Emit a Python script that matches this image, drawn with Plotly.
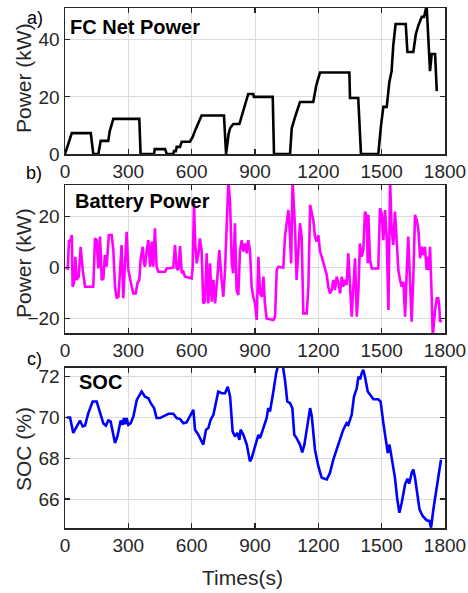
import plotly.graph_objects as go

# ---------------- data ----------------
fc_t = [0, 32, 122, 134, 158, 169, 205, 212, 229, 352, 358, 422, 425, 474, 482, 513, 516, 525, 529, 545,
        553, 592, 605, 615, 647, 753, 763, 775, 782, 797, 826, 840, 855, 868, 892, 895, 984, 990, 1066,
        1074, 1090, 1100, 1113, 1176, 1190, 1208, 1347, 1350, 1389, 1402, 1484, 1497, 1508, 1524, 1536,
        1547, 1555, 1566, 1614, 1622, 1650, 1662, 1674, 1690, 1701, 1713, 1729, 1737, 1753, 1761]
fc_kw = [0, 7.3, 7.3, 0, 0, 4.6, 4.6, 8, 12.3, 12.3, 0, 0, 1.7, 1.7, 0, 0, 1, 1, 2.5, 2.5,
         4.3, 4.3, 6, 8, 13.5, 13.5, 0, 7, 9, 10.5, 10.5, 14, 17, 21, 21, 20, 20, 0, 0,
         9, 13, 15, 18.2, 18.2, 24, 28.5, 28.5, 19.6, 19.6, 0, 0, 10, 16.5, 16.5, 25,
         29, 38, 45.5, 45.5, 35.7, 35.7, 42, 45, 48, 48, 52, 29, 35, 35, 22]

bat_t = [3, 13, 19, 25, 32, 36, 43, 49, 55, 65, 74, 84, 95, 134, 142, 150, 158, 166, 174, 182,
         189, 197, 208, 221, 229, 237, 245, 253, 261, 268, 276, 284, 292, 300, 308, 316, 324, 335,
         343, 352, 358, 368, 374, 379, 387, 395, 403, 411, 418, 426, 434, 442, 474, 482, 513, 521,
         529, 537, 545, 553, 561, 568, 600, 605, 611, 617, 624, 632, 639, 647, 655, 663, 671, 679,
         687, 695, 703, 711, 722, 731, 742, 750, 758, 766, 774, 782, 790, 797, 805, 813, 821, 829,
         837, 845, 853, 861, 868, 876, 884, 892, 900, 908, 916, 924, 932, 940, 947, 955, 987, 995,
         1003, 1011, 1034, 1042, 1050, 1058, 1066, 1071, 1078, 1090, 1097, 1105, 1113, 1121, 1129,
         1145, 1153, 1161, 1168, 1176, 1184, 1192, 1200, 1208, 1216, 1224, 1232, 1240, 1247, 1255,
         1263, 1271, 1279, 1287, 1295, 1303, 1311, 1318, 1326, 1334, 1342, 1350, 1358, 1366, 1374,
         1382, 1390, 1397, 1405, 1413, 1421, 1429, 1434, 1437, 1445, 1453, 1484, 1492, 1500, 1508,
         1516, 1524, 1532, 1540, 1547, 1555, 1563, 1571, 1579, 1587, 1595, 1603, 1611, 1618, 1626,
         1634, 1642, 1650, 1658, 1666, 1674, 1682, 1690, 1697, 1705, 1713, 1718, 1724, 1729, 1737,
         1742, 1753, 1761, 1768, 1773, 1776, 1784]
bat_kw = [0, -0.3, 10.8, 10.2, 12.8, -7.5, -6.1, 4.3, -4.8, -3.5, 8.2, -0.9, -7.5, -7.5, 11.5, 10.8,
          -0.3, 12.2, -4.8, -4.2, 5, 0.4, 12.8, 12.8, 6.9, -7.5, -12, -11.4, -0.9, 8.9, -12, 4.3, 14.1,
          -0.9, -4.8, -7.5, -10.1, -10.1, -6.1, -4.8, 3, 8.2, 1.7, 0.4, 6.9, 10.8, 0.4, 10.2, 0.4, 15.4,
          0.4, -1.6, -1.6, -0.3, 0, 8.9, -0.3, -0.9, 8.5, -2.2, -1.6, -3.5, -4.2, 0.4, 25.2, 9.5, 1.7,
          5.6, 11.5, 6.9, -14, -13.3, 5.6, -14, 1.7, -13.3, -4.8, -14, -3.5, 6.9, -4.8, -11.4, -0.9,
          16.1, 34, 25.2, 1.7, -2.2, 17.4, -8.8, -10.7, 6.9, 10.8, 6.3, 9.5, 5.6, 10.8, 6.9, -7.5,
          -11.4, -14, -20.5, 4.3, -10.1, -11.4, -3.5, -14, -19.9, -20.5, -19.2, -0.9, 0.4, 0, 12.2,
          18.7, 22.6, 12.2, 1.7, 34, 14.8, -4.8, 4.3, 17.4, 12.2, -17.9, -17.9, -7.5, 24.6, 21.3,
          18.7, 12.2, 10.2, 12.8, 6.3, 4.3, 1.7, -0.9, -2.9, -7.5, -10.1, -8.8, -4.8, -8.8, -3.5,
          -6.1, -10.1, -3.5, -7.5, -4.8, -6.8, 5.6, -8.8, -19.2, -7.5, 3.7, -19.2, -8.8, 9.5, 4.3,
          6.9, 22, 20, 1.7, 20.7, 3, -0.3, -0.3, 23.3, 21.3, 10.8, 22.6, 11.5, -16.6, 34, 15.4, 8.9,
          22, 10.8, -0.9, -4.8, -7.5, -5.5, -19.2, -2.9, 12.2, -4.8, -21.2, -3.5, 20.7, 18.7, 14.8,
          3.7, 8.2, 5, 8.2, -0.9, 4.3, -0.9, 8.2, -11.4, -27, -16.6, -12, -12, -15.3, -21.2, -20.5]

soc_t = [8, 24, 39, 55, 71, 84, 95, 110, 131, 150, 163, 182, 194, 205, 216, 226, 237, 248, 264, 273,
         279, 286, 292, 300, 311, 324, 340, 363, 379, 395, 406, 422, 434, 450, 469, 490, 513, 529, 545,
         561, 576, 592, 608, 616, 632, 655, 668, 679, 690, 703, 715, 726, 742, 758, 771, 782, 794, 805,
         816, 826, 832, 845, 861, 876, 884, 895, 916, 924, 940, 955, 963, 971, 987, 1000, 1011, 1031,
         1042, 1053, 1066, 1077, 1086, 1097, 1113, 1124, 1134, 1153, 1161, 1169, 1184, 1200, 1216,
         1240, 1255, 1271, 1287, 1303, 1318, 1334, 1342, 1358, 1369, 1382, 1390, 1398, 1405, 1413,
         1421, 1434, 1445, 1461, 1484, 1495, 1508, 1521, 1529, 1537, 1543, 1552, 1563, 1574, 1584,
         1595, 1611, 1622, 1631, 1642, 1650, 1658, 1669, 1679, 1694, 1713, 1726, 1734, 1745, 1761,
         1773, 1781]
soc_pct = [70, 70, 69.24, 69.56, 69.85, 69.56, 69.6, 70.2, 70.78, 70.78, 70.37, 69.7, 69.6, 69.85, 69.8,
           69.24, 68.75, 69.07, 69.85, 69.64, 69.97, 69.67, 69.97, 69.64, 69.72, 70.05, 70.86, 71.27,
           71.02, 70.94, 70.7, 70.46, 69.97, 69.97, 70.08, 70.18, 70.18, 69.97, 69.92, 69.72, 69.76,
           70.08, 70.37, 69.4, 69.15, 68.67, 69.4, 69.48, 69.89, 70.13, 70.78, 71.27, 71.19, 71.19,
           71.51, 71.02, 69.32, 69.07, 69.24, 68.9, 69.4, 69.15, 68.67, 67.85, 68.0, 68.42, 69.15,
           68.99, 69.48, 69.97, 70.46, 70.29, 71.27, 72.16, 72.6, 72.6, 71.84, 70.78, 70.7, 70.46,
           69.15, 68.99, 68.67, 68.29, 68.67, 70.05, 70.46, 70.05, 68.42, 67.61, 67.04, 66.96, 67.28,
           67.93, 68.42, 68.91, 69.4, 69.72, 69.64, 70.13, 71.02, 71.43, 72.0, 71.87, 72.16, 72.33,
           72.0, 71.27, 71.1, 70.89, 70.89, 70.78, 69.72, 68.91, 68.26, 68.67, 68.26, 67.61, 67.04,
           65.98, 65.33, 65.82, 66.72, 66.99, 66.76, 67.28, 67.45, 67.04, 66.15, 65.5, 65.17, 64.96,
           64.93, 64.6, 65.5, 66.63, 67.45, 67.93]

x_ticks = [0, 300, 600, 900, 1200, 1500, 1800]
fc_ticks = [0, 20, 40]
bat_ticks = [-20, 0, 20]
soc_ticks = [66, 68, 70, 72]

# ---------------- layout helpers ----------------
W, H = 468, 593
FONT = "Liberation Sans, Arial, sans-serif"
TXT = "#262626"


def px(x):
    return x / W


def py(y):
    return 1 - y / H


xdom = [px(65), px(445)]
ydoms = [[py(154), py(8)], [py(333), py(185)], [py(528), py(367.7)]]
yranges = [[0, 51.1], [-25.6, 32.4], [64.58, 72.44]]
yticks = [fc_ticks, bat_ticks, soc_ticks]

fig = go.Figure()
series = [(fc_t, fc_kw, "#000000"), (bat_t, bat_kw, "#FF00FF"), (soc_t, soc_pct, "#0000FF")]
for i, (t, v, c) in enumerate(series):
    sfx = "" if i == 0 else str(i + 1)
    fig.add_trace(go.Scatter(x=t, y=v, mode="lines", line=dict(color=c, width=2.6),
                             xaxis="x" + sfx, yaxis="y" + sfx, showlegend=False, hoverinfo="skip"))

axcommon = dict(showline=True, linecolor=TXT, linewidth=1.5, mirror="ticks", ticks="inside",
                ticklen=5, tickwidth=1.2, tickcolor=TXT, showgrid=True, gridcolor="#dcdcdc",
                gridwidth=1, zeroline=False, automargin=False,
                tickfont=dict(family=FONT, size=19, color=TXT))

for i in range(3):
    sfx = "" if i == 0 else str(i + 1)
    fig.layout["xaxis" + sfx] = dict(axcommon, domain=xdom, range=[0, 1800], tickvals=x_ticks,
                                     anchor="y" + sfx)
    fig.layout["yaxis" + sfx] = dict(axcommon, domain=ydoms[i], range=yranges[i], tickvals=yticks[i],
                                     anchor="x" + sfx)

ann = []
# panel titles (bold, inside)
for text, x, y in [("FC Net Power", 68, 27), ("Battery Power", 73, 201), ("SOC", 77, 382)]:
    ann.append(dict(text="<b>" + text + "</b>", x=px(x), y=py(y), xref="paper", yref="paper",
                    xanchor="left", yanchor="middle", showarrow=False,
                    font=dict(family=FONT, size=20, color="#000000")))
# panel letters
for text, x, y in [("a)", 35, 18), ("b)", 34, 173), ("c)", 34, 359)]:
    ann.append(dict(text=text, x=px(x), y=py(y), xref="paper", yref="paper",
                    xanchor="center", yanchor="middle", showarrow=False,
                    font=dict(family=FONT, size=18, color="#000000")))
# y titles
for text, y in [("Power (kW)", 78), ("Power (kW)", 263), ("SOC (%)", 449)]:
    ann.append(dict(text=text, x=px(23), y=py(y), xref="paper", yref="paper", textangle=-90,
                    xanchor="center", yanchor="middle", showarrow=False,
                    font=dict(family=FONT, size=21, color=TXT)))
# x title
ann.append(dict(text="Times(s)", x=px(242), y=py(577), xref="paper", yref="paper",
                xanchor="center", yanchor="middle", showarrow=False,
                font=dict(family=FONT, size=21, color=TXT)))

fig.update_layout(template="none", width=W, height=H,
                  margin=dict(l=0, r=0, t=0, b=0, pad=0, autoexpand=False), autosize=False,
                  paper_bgcolor="white", plot_bgcolor="white", annotations=ann)

fig.write_html("out.html", config={"displayModeBar": False, "staticPlot": True},
               post_script="document.body.style.margin='0px';document.body.style.overflow='hidden';")
